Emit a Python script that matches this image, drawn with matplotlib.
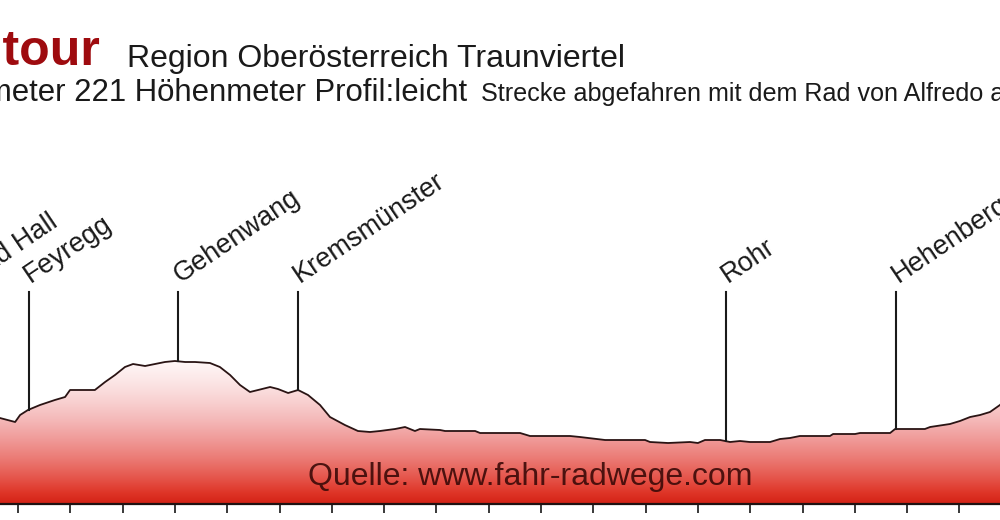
import matplotlib
matplotlib.use("Agg")
import matplotlib.pyplot as plt
import numpy as np
from matplotlib.colors import LinearSegmentedColormap

plt.rcParams['font.family'] = ['Liberation Sans', 'DejaVu Sans']

# --- data: distance (km) and elevation (m) ---
dist_km = [-1.90, -0.69, -0.11, 0.08, 0.38, 0.84, 1.41, 1.80, 1.99, 2.94, 3.33, 3.71,
           4.09, 4.40, 4.86, 5.24, 5.62, 6.00, 6.39, 6.77, 7.34, 7.72, 8.11, 8.49,
           8.87, 9.18, 9.64, 9.94, 10.33, 10.71, 11.09, 11.55, 11.93, 12.50, 13.00,
           13.46, 13.84, 14.42, 14.80, 15.18, 15.37, 16.14, 16.33, 17.48, 17.67,
           19.20, 19.58, 21.11, 21.49, 22.45, 23.98, 24.17, 24.86, 25.70, 26.00,
           26.27, 26.85, 27.23, 27.61, 27.99, 28.76, 29.14, 29.52, 29.90, 31.05,
           31.17, 32.01, 32.20, 33.35, 33.54, 34.68, 34.88, 35.64, 36.02, 36.41,
           36.79, 37.17, 37.55, 37.74]
elev_m = [386, 386, 382, 389, 394, 399, 404, 407, 414, 414, 422, 429,
          437, 440, 438, 440, 442, 443, 442, 442, 441, 437, 429, 419,
          412, 414, 417, 415, 411, 414, 409, 399, 387, 379, 373,
          372, 373, 375, 377, 373, 375, 374, 373, 373, 371,
          371, 368, 368, 367, 364, 364, 362, 361, 362, 361,
          364, 364, 362, 363, 362, 362, 365, 366, 368, 368,
          370, 370, 371, 371, 375, 375, 377, 380, 383, 387,
          389, 392, 399, 404]

towns = ["Bad Hall", "Feyregg", "Gehenwang", "Kremsmünster", "Rohr", "Hehenberg"]
town_km = [-1.75, 0.42, 6.12, 10.71, 27.07, 33.58]

title_main = "Radtour"
title_region = "Region Oberösterreich Traunviertel"
subtitle_1 = "Kilometer 221 Höhenmeter Profil:leicht"
subtitle_2 = "Strecke abgefahren mit dem Rad von Alfredo am 12.06.2011"
source = "Quelle: www.fahr-radwege.com"

# --- figure ---
W, H = 1000, 520
fig = plt.figure(figsize=(10, 5.2), dpi=100)
fig.patch.set_facecolor('white')
ax = fig.add_axes([0, 16 / H, 1, 504 / H])
ax.set_facecolor('none')
x0, x1 = -18 / 26.15, 982 / 26.15

# gradient fill clipped to the profile
poly = ax.fill_between(dist_km, elev_m, 300, facecolor='none', edgecolor='none')
cmap = LinearSegmentedColormap.from_list('prof', [
    (0.00, '#d32216'), (0.07, '#de3426'), (0.17, '#e5544a'), (0.30, '#eb7a74'),
    (0.43, '#f09a98'), (0.55, '#f4b6b6'), (0.68, '#f8d0d0'), (0.82, '#fce6e6'),
    (0.95, '#fff7f7'), (1.00, '#ffffff')])
grad = np.linspace(0, 1, 256).reshape(-1, 1)
im = ax.imshow(grad, extent=[x0 - 2, x1 + 2, 300, 450], origin='lower',
               aspect='auto', cmap=cmap, zorder=1)
im.set_clip_path(poly.get_paths()[0], transform=ax.transData)
ax.set_xlim(x0, x1)
ax.set_ylim(300, 804)

ax.plot(dist_km, elev_m, color='#2a1414', lw=1.3, zorder=3)

# town markers
y_top = 512
for name, km in zip(towns, town_km):
    yb = np.interp(km, dist_km, elev_m)
    ax.plot([km, km], [yb, y_top], color='#1a1a1a', lw=1.5, zorder=3)
    ax.text(km + 0.07, 521, name, rotation=34, rotation_mode='anchor',
            ha='left', va='baseline', fontsize=19.5, color='#1a1a1a', zorder=4)

# axis styling
for s in ['top', 'left', 'right']:
    ax.spines[s].set_visible(False)
ax.spines['bottom'].set_color('#1f1212')
ax.spines['bottom'].set_linewidth(1.6)
ax.set_yticks([])
ax.set_xticks(np.arange(0, 37, 2))
ax.tick_params(axis='x', direction='out', length=6.5, width=1.3, color='#2a2a2a',
               labelbottom=False)

# source watermark
fig.text(530 / W, 1 - 485 / H, source, ha='center', va='baseline',
         fontsize=23, color='#3b0a08', alpha=0.9)

# titles
fig.text(101 / W, 1 - 65 / H, title_main, ha='right', va='baseline',
         fontsize=36, fontweight='bold', color='#9e0b0f')
fig.text(127 / W, 1 - 67 / H, title_region, ha='left', va='baseline',
         fontsize=23, color='#1a1a1a')
fig.text(467 / W, 1 - 101 / H, subtitle_1, ha='right', va='baseline',
         fontsize=22.4, color='#1a1a1a')
fig.text(481 / W, 1 - 101 / H, subtitle_2, ha='left', va='baseline',
         fontsize=18.1, color='#1a1a1a')

fig.savefig('out.png', dpi=100)
